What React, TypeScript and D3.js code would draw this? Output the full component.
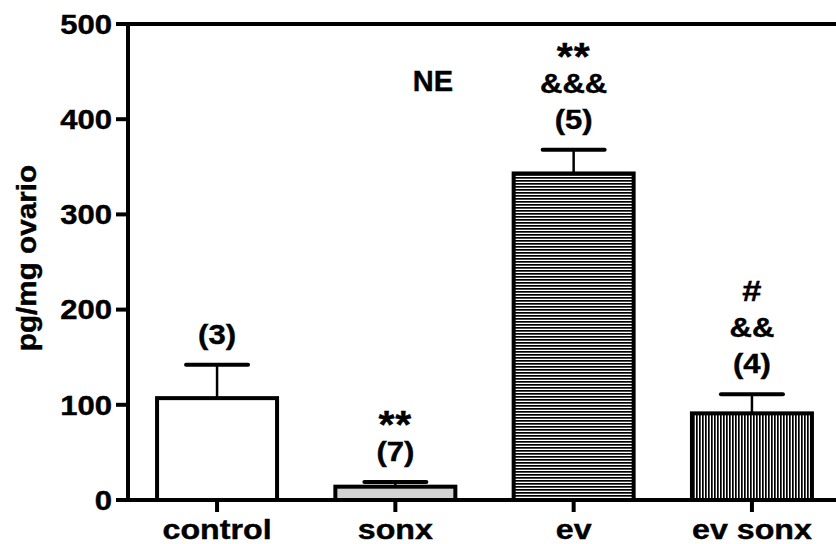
import React from "react";
import * as d3 from "d3";

const categories = ["control", "sonx", "ev", "ev sonx"];
const means = [107, 14, 343, 91];
const errUpper = [142, 19, 368, 111];
const annotations = [["(3)"], ["**", "(7)"], ["**", "&&&", "(5)"], ["#", "&&", "(4)"]];
const yTicks = [0, 100, 200, 300, 400, 500];
const yLabel = "pg/mg ovario";
const title = "NE";

const W = 836;
const H = 544;
const FONT = "'Liberation Sans', Arial, Helvetica, sans-serif";
const SX = 1.15;

function T({
  x,
  y,
  size,
  anchor = "middle",
  sx = SX,
  children,
  dy,
  ls,
}: {
  x: number;
  y: number;
  size: number;
  anchor?: string;
  sx?: number;
  children: React.ReactNode;
  dy?: string;
  ls?: number;
}) {
  return (
    <text
      transform={`translate(${x},${y}) scale(${sx},1)`}
      textAnchor={anchor as any}
      fontWeight="bold"
      fontSize={size}
      dy={dy}
      letterSpacing={ls}
      stroke="#000"
      strokeWidth={0.4}
    >
      {children}
    </text>
  );
}

export default function App() {
  const y = d3.scaleLinear().domain([0, 500]).range([500, 24]);
  const x = d3
    .scaleBand<string>()
    .domain(categories)
    .range([128, 841])
    .paddingInner(0.327)
    .paddingOuter(0.163);
  const bw = x.bandwidth();
  const fills = ["#ffffff", "#d3d3d3", "url(#hlines)", "url(#vlines)"];
  const axisX = 128;

  return (
    <svg
      width={W}
      height={H}
      style={{ position: "absolute", left: 0, top: 0, background: "#fff" }}
      fontFamily={FONT}
    >
      <defs>
        <pattern id="hlines" width={4} height={3} patternUnits="userSpaceOnUse">
          <rect width={4} height={3} fill="#fff" />
          <rect width={4} height={1.7} fill="#000" />
        </pattern>
        <pattern id="vlines" width={3} height={4} patternUnits="userSpaceOnUse">
          <rect width={3} height={4} fill="#fff" />
          <rect width={1.7} height={4} fill="#000" />
        </pattern>
      </defs>

      {/* bars */}
      {categories.map((c, i) => {
        const x0 = x(c)!;
        const cx = x0 + bw / 2;
        const top = y(means[i]);
        const et = y(errUpper[i]);
        return (
          <g key={c}>
            <line x1={cx} x2={cx} y1={top} y2={et} stroke="#000" strokeWidth={2.5} />
            <line x1={cx - 31} x2={cx + 31} y1={et} y2={et} stroke="#000" strokeWidth={4} strokeLinecap="round" />
            <rect
              x={x0}
              y={top}
              width={bw}
              height={y(0) - top}
              fill={fills[i]}
              stroke="#000"
              strokeWidth={4}
            />
          </g>
        );
      })}

      {/* annotations */}
      {categories.map((c, i) => {
        const cx = x(c)! + bw / 2;
        const base = y(errUpper[i]) - 21;
        const lines = annotations[i];
        return lines.map((t, j) => {
          const k = lines.length - 1 - j;
          const isStar = t.startsWith("*");
          const isHash = t.startsWith("#");
          return (
            <T
              key={c + j}
              x={cx}
              y={base - k * 36 + (isStar ? 13 : 0)}
              size={isStar ? 39 : isHash ? 30 : 27}
              ls={isStar ? 1 : 0}
              sx={isStar ? 1.05 : SX}
            >
              {t}
            </T>
          );
        });
      })}

      {/* axes */}
      <line x1={axisX} x2={axisX} y1={y(500) - 2} y2={y(0) + 2} stroke="#000" strokeWidth={4} />
      <line x1={axisX} x2={W} y1={y(0)} y2={y(0)} stroke="#000" strokeWidth={4} />
      <line x1={axisX} x2={W} y1={y(500)} y2={y(500)} stroke="#000" strokeWidth={4} />
      {yTicks.map((t) => (
        <g key={t}>
          <line x1={axisX - 12} x2={axisX} y1={y(t)} y2={y(t)} stroke="#000" strokeWidth={4} />
          <T x={axisX - 16} y={y(t)} dy="0.36em" anchor="end" size={27}>
            {t}
          </T>
        </g>
      ))}
      {categories.map((c) => {
        const cx = x(c)! + bw / 2;
        return (
          <g key={"xt" + c}>
            <line x1={cx} x2={cx} y1={y(0)} y2={y(0) + 12} stroke="#000" strokeWidth={4} />
            <T x={cx} y={539} size={28}>
              {c}
            </T>
          </g>
        );
      })}

      <text
        transform={`translate(36,258) rotate(-90) scale(1.06,1)`}
        textAnchor="middle"
        fontWeight="bold"
        fontSize={28}
        stroke="#000"
        strokeWidth={0.4}
      >
        {yLabel}
      </text>
      <T x={433} y={91} size={29} sx={1}>
        {title}
      </T>
    </svg>
  );
}
